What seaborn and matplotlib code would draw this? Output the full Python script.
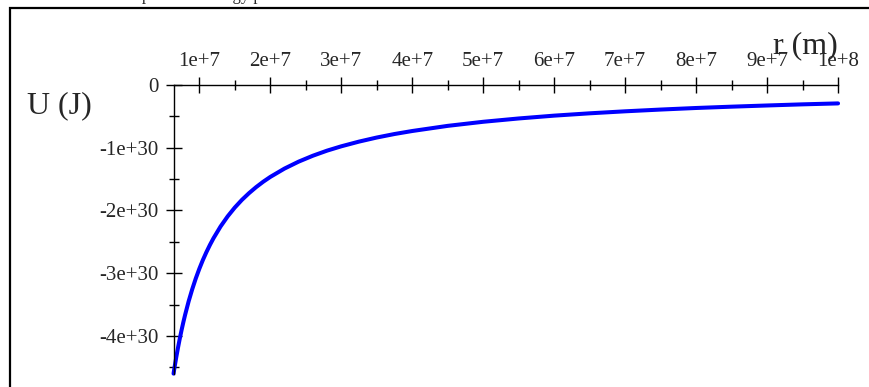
import matplotlib
matplotlib.use("Agg")
import matplotlib.pyplot as plt
import seaborn as sns
from matplotlib.patches import Rectangle
from matplotlib.ticker import FixedLocator, MultipleLocator

# --- Basic styling ---
sns.set_style("white")
plt.rcParams['font.family'] = ['Liberation Serif', 'DejaVu Serif']

# --- Data (r in m, U in J) ---
r_values = [6.37e6, 6.5e6, 6.75e6, 7.0e6, 7.25e6, 7.5e6, 7.75e6, 8.0e6, 8.5e6, 9.0e6,
            9.5e6, 1.0e7, 1.05e7, 1.1e7, 1.15e7, 1.2e7, 1.3e7, 1.4e7, 1.5e7, 1.6e7,
            1.7e7, 1.8e7, 1.9e7, 2.0e7, 2.2e7, 2.4e7, 2.6e7, 2.8e7, 3.0e7, 3.25e7,
            3.5e7, 3.75e7, 4.0e7, 4.5e7, 5.0e7, 5.5e7, 6.0e7, 6.5e7, 7.0e7, 7.5e7,
            8.0e7, 8.5e7, 9.0e7, 9.5e7, 1.0e8]
u_values = [-4.600e30, -4.508e30, -4.341e30, -4.186e30, -4.041e30, -3.907e30, -3.781e30,
            -3.663e30, -3.447e30, -3.256e30, -3.084e30, -2.930e30, -2.790e30, -2.664e30,
            -2.548e30, -2.442e30, -2.254e30, -2.093e30, -1.953e30, -1.831e30, -1.724e30,
            -1.628e30, -1.542e30, -1.465e30, -1.332e30, -1.221e30, -1.127e30, -1.046e30,
            -0.977e30, -0.902e30, -0.837e30, -0.781e30, -0.733e30, -0.651e30, -0.586e30,
            -0.533e30, -0.488e30, -0.451e30, -0.419e30, -0.391e30, -0.366e30, -0.345e30,
            -0.326e30, -0.308e30, -0.293e30]

x_ticks = [1e7, 2e7, 3e7, 4e7, 5e7, 6e7, 7e7, 8e7, 9e7, 1e8]
x_tick_labels = ["1e+7", "2e+7", "3e+7", "4e+7", "5e+7", "6e+7", "7e+7", "8e+7", "9e+7", "1e+8"]
y_ticks = [0, -1e30, -2e30, -3e30, -4e30]
y_tick_labels = ["0", "-1e+30", "-2e+30", "-3e+30", "-4e+30"]

title_text = "Gravitational potential energy plot"
x_label = "r (m)"
y_label = "U (J)"

# --- Figure ---
fig = plt.figure(figsize=(8.69, 3.87), dpi=100)
ax = fig.add_axes([0.1997, 0.0346, 0.7647, 0.7457])
ax.set_facecolor('none')

sns.lineplot(x=r_values, y=u_values, ax=ax, color='#0000ff', linewidth=2.9,
             clip_on=False)

ax.set_xlim(6.37e6, 1e8)
ax.set_ylim(-4.6e30, 0)

# maple-style axes: x axis on top (y = 0), y axis at the left
for side in ['bottom', 'right']:
    ax.spines[side].set_visible(False)
for side in ['top', 'left']:
    ax.spines[side].set_color('black')
    ax.spines[side].set_linewidth(1.0)

ax.xaxis.tick_top()
ax.set_xticks(x_ticks)
ax.set_xticklabels(x_tick_labels)
ax.xaxis.set_minor_locator(FixedLocator([t + 5e6 for t in x_ticks[:-1]]))
ax.set_yticks(y_ticks)
ax.set_yticklabels(y_tick_labels)
ax.yaxis.set_minor_locator(MultipleLocator(0.5e30))

ax.tick_params(which='major', direction='inout', length=12, width=1.0,
               color='black', labelsize=15)
ax.tick_params(which='minor', direction='inout', length=7, width=1.0, color='black')
ax.tick_params(axis='x', which='both', top=True, bottom=False)
ax.tick_params(axis='x', which='major', pad=4)
ax.tick_params(axis='y', which='both', left=True, right=False)
ax.tick_params(axis='y', which='major', pad=5)
ax.yaxis.get_offset_text().set_visible(False)
ax.xaxis.get_offset_text().set_visible(False)

# axis labels as free text
fig.text(27 / 869, 1 - 106 / 387, y_label, fontsize=23, ha='left', va='center')
fig.text(805 / 869, 1 - 46 / 387, x_label, fontsize=23, ha='center', va='center')

# title mostly cut off at the top edge (only descenders show)
fig.text(50 / 869, 1.0, title_text, fontsize=12, ha='left', va='baseline')

# outer frame
frame = Rectangle((9.5 / 869, -0.2), 1.0, 1.2 - 7.5 / 387, transform=fig.transFigure,
                  fill=False, edgecolor='black', linewidth=1.6, clip_on=False)
fig.patches.append(frame)

fig.savefig('out.png', dpi=100)
